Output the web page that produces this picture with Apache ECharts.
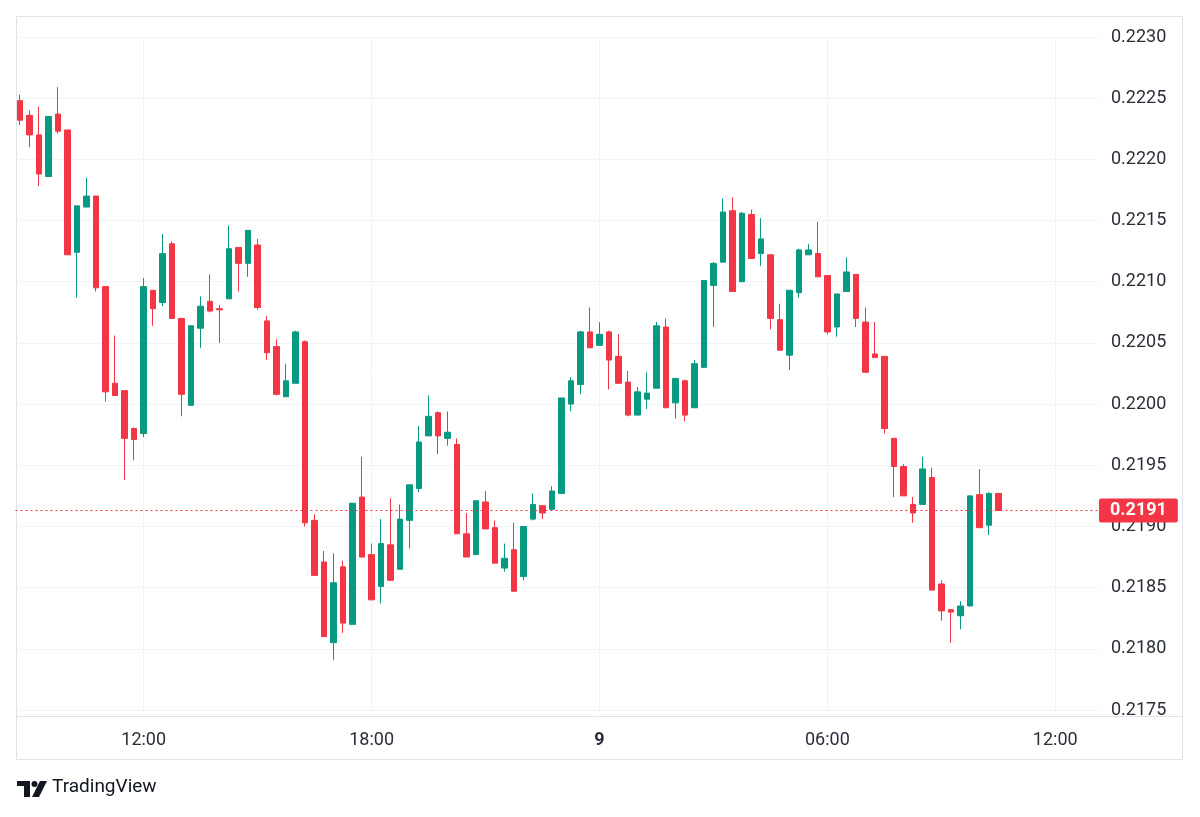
<!DOCTYPE html>
<html>
<head>
<meta charset="utf-8">
<title>Candles</title>
<script src="https://cdn.jsdelivr.net/npm/echarts@6/dist/echarts.min.js"></script>
<style>
  html, body { margin: 0; padding: 0; background: #fff; }
  #chart { width: 1200px; height: 817px; }
</style>
</head>
<body>
<div id="chart"></div>
<script>
// 15 minute candles, first one at 08:45
var startHour = 8, startMinute = 45, slotCount = 114;

var opens = [
    0.22248, 0.22236, 0.22220, 0.22186, 0.22237, 0.22224, 0.22124, 0.22161, 0.22170, 0.22096,
    0.22017, 0.22011, 0.21980, 0.21976, 0.22093, 0.22083, 0.22131, 0.22070, 0.21999, 0.22062,
    0.22084, 0.22078, 0.22086, 0.22128, 0.22115, 0.22130, 0.22068, 0.22047, 0.22006, 0.22017,
    0.22051, 0.21905, 0.21871, 0.21805, 0.21867, 0.21820, 0.21924, 0.21877, 0.21851, 0.21885,
    0.21865, 0.21905, 0.21931, 0.21974, 0.21993, 0.21972, 0.21967, 0.21894, 0.21877, 0.21920,
    0.21899, 0.21866, 0.21881, 0.21859, 0.21906, 0.21917, 0.21914, 0.21927, 0.22000, 0.22016,
    0.22059, 0.22048, 0.22059, 0.22039, 0.22018, 0.21991, 0.22004, 0.22013, 0.22063, 0.22001,
    0.22019, 0.21997, 0.22030, 0.22097, 0.22116, 0.22158, 0.22100, 0.22155, 0.22123, 0.22122,
    0.22069, 0.22040, 0.22091, 0.22122, 0.22123, 0.22105, 0.22063, 0.22092, 0.22106, 0.22067,
    0.22041, 0.22039, 0.21972, 0.21949, 0.21918, 0.21918, 0.21940, 0.21853, 0.21832, 0.21827,
    0.21835, 0.21926, 0.21901, 0.21927
];
var highs = [
    0.22253, 0.22240, 0.22243, 0.22235, 0.22259, 0.22224, 0.22162, 0.22185, 0.22170, 0.22096,
    0.22056, 0.22011, 0.21981, 0.22103, 0.22093, 0.22139, 0.22133, 0.22070, 0.22064, 0.22088,
    0.22106, 0.22081, 0.22146, 0.22128, 0.22142, 0.22135, 0.22072, 0.22053, 0.22033, 0.22060,
    0.22052, 0.21910, 0.21880, 0.21878, 0.21872, 0.21919, 0.21957, 0.21886, 0.21906, 0.21923,
    0.21918, 0.21934, 0.21982, 0.22007, 0.21994, 0.21994, 0.21972, 0.21911, 0.21921, 0.21929,
    0.21905, 0.21886, 0.21903, 0.21900, 0.21927, 0.21917, 0.21933, 0.22005, 0.22022, 0.22060,
    0.22079, 0.22067, 0.22060, 0.22057, 0.22027, 0.22014, 0.22026, 0.22067, 0.22070, 0.22021,
    0.22020, 0.22036, 0.22101, 0.22116, 0.22168, 0.22169, 0.22157, 0.22159, 0.22152, 0.22122,
    0.22082, 0.22093, 0.22127, 0.22131, 0.22149, 0.22105, 0.22090, 0.22120, 0.22106, 0.22079,
    0.22067, 0.22039, 0.21972, 0.21951, 0.21924, 0.21957, 0.21948, 0.21856, 0.21832, 0.21839,
    0.21925, 0.21947, 0.21928, 0.21927
];
var lows = [
    0.22228, 0.22210, 0.22178, 0.22186, 0.22221, 0.22122, 0.22087, 0.22161, 0.22092, 0.22002,
    0.22007, 0.21938, 0.21954, 0.21973, 0.22064, 0.22080, 0.22070, 0.21990, 0.21999, 0.22046,
    0.22075, 0.22050, 0.22086, 0.22092, 0.22104, 0.22077, 0.22036, 0.22007, 0.22006, 0.22017,
    0.21900, 0.21860, 0.21810, 0.21791, 0.21813, 0.21820, 0.21875, 0.21840, 0.21837, 0.21856,
    0.21865, 0.21882, 0.21928, 0.21974, 0.21959, 0.21966, 0.21894, 0.21875, 0.21877, 0.21898,
    0.21870, 0.21863, 0.21847, 0.21856, 0.21905, 0.21906, 0.21913, 0.21927, 0.21994, 0.22008,
    0.22046, 0.22048, 0.22012, 0.22017, 0.21990, 0.21991, 0.21996, 0.22013, 0.21997, 0.21988,
    0.21986, 0.21997, 0.22030, 0.22063, 0.22116, 0.22092, 0.22100, 0.22119, 0.22113, 0.22061,
    0.22044, 0.22028, 0.22087, 0.22122, 0.22104, 0.22057, 0.22055, 0.22092, 0.22063, 0.22026,
    0.22038, 0.21976, 0.21924, 0.21925, 0.21903, 0.21918, 0.21848, 0.21823, 0.21805, 0.21816,
    0.21835, 0.21899, 0.21893, 0.21913
];
var closes = [
    0.22232, 0.22220, 0.22188, 0.22235, 0.22223, 0.22122, 0.22162, 0.22170, 0.22095, 0.22010,
    0.22007, 0.21972, 0.21971, 0.22096, 0.22078, 0.22123, 0.22070, 0.22008, 0.22064, 0.22080,
    0.22076, 0.22077, 0.22127, 0.22115, 0.22142, 0.22079, 0.22042, 0.22008, 0.22019, 0.22059,
    0.21903, 0.21860, 0.21810, 0.21854, 0.21821, 0.21919, 0.21875, 0.21840, 0.21886, 0.21856,
    0.21906, 0.21934, 0.21969, 0.21990, 0.21974, 0.21977, 0.21894, 0.21875, 0.21921, 0.21898,
    0.21870, 0.21874, 0.21847, 0.21900, 0.21918, 0.21911, 0.21929, 0.22005, 0.22019, 0.22059,
    0.22046, 0.22057, 0.22036, 0.22017, 0.21991, 0.22010, 0.22009, 0.22064, 0.21997, 0.22021,
    0.21991, 0.22033, 0.22101, 0.22115, 0.22157, 0.22092, 0.22156, 0.22119, 0.22135, 0.22070,
    0.22044, 0.22093, 0.22126, 0.22126, 0.22104, 0.22059, 0.22090, 0.22108, 0.22070, 0.22026,
    0.22038, 0.21980, 0.21949, 0.21925, 0.21911, 0.21947, 0.21848, 0.21831, 0.21830, 0.21835,
    0.21925, 0.21899, 0.21927, 0.21913
];

// time labels shown on the x axis ('00:00' is the new day)
var tickLabels = { '12:00': '12:00', '18:00': '18:00', '00:00': '9', '06:00': '06:00' };
var priceTicks = { min: 0.2175, max: 0.2230, step: 0.0005 };

var upColor = '#089981', downColor = '#F23645', textColor = '#2a2e39', gridColor = '#f0f3fa';

function pad(n) { return (n < 10 ? '0' : '') + n; }
var categories = [];
for (var i = 0; i < slotCount; i++) {
    var m = startHour * 60 + startMinute + i * 15;
    categories.push(pad(Math.floor(m / 60) % 24) + ':' + pad(m % 60));
}
// half-slot axis: odd positions sit on candle centres, used only for the vertical grid lines
var halfSlots = [''];
categories.forEach(function (c) { halfSlots.push(c, ''); });

var candles = opens.map(function (o, i) {
    return [o, closes[i], lows[i], highs[i]];
});
var lastClose = closes[closes.length - 1];

function isTick(index, value) { return tickLabels.hasOwnProperty(value); }

var chart = echarts.init(document.getElementById('chart'));
var option = {
    animation: false
    , backgroundColor: '#ffffff'
    , textStyle: { fontFamily: 'Roboto, sans-serif' }
    , grid: { left: 15.5, right: 102, top: 37, bottom: 107 }
    , graphic: [
        {
            type: 'rect', silent: true, z: -1
            , shape: { x: 16.5, y: 16.5, width: 1166, height: 743 }
            , style: { fill: 'none', stroke: '#e0e3eb', lineWidth: 1 }
        }
        , {
            type: 'line', silent: true
            , shape: { x1: 16.5, y1: 716.5, x2: 1182.5, y2: 716.5 }
            , style: { stroke: '#e0e3eb', lineWidth: 1 }
        }
        , {
            type: 'group', left: 17, top: 781
            , children: [
                { type: 'rect', shape: { x: 0, y: 0, width: 13, height: 5 }, style: { fill: '#131722' } }
                , { type: 'rect', shape: { x: 7, y: 0, width: 6, height: 16 }, style: { fill: '#131722' } }
                , { type: 'circle', shape: { cx: 17.5, cy: 3, r: 3 }, style: { fill: '#131722' } }
                , { type: 'polygon', shape: { points: [[23, 0], [30, 0], [22, 16], [15, 16]] }, style: { fill: '#131722' } }
            ]
        }
        , {
            type: 'text', left: 52, top: 778
            , style: { text: 'TradingView', fill: '#131722', font: '19px Roboto, sans-serif' }
        }
    ]
    , xAxis: [
        {
            type: 'category'
            , data: categories
            , boundaryGap: true
            , axisLine: { show: false }
            , axisTick: { show: false, interval: isTick }
            , axisLabel: {
                interval: isTick
                , margin: 21
                , fontSize: 18
                , color: textColor
                , formatter: function (v) {
                    return v === '00:00' ? '{day|' + tickLabels[v] + '}' : tickLabels[v];
                }
                , rich: { day: { fontWeight: 'bold', fontSize: 18, color: textColor } }
            }
            , splitLine: { show: false }
        }
        , {
            type: 'category'
            , data: halfSlots
            , boundaryGap: false
            , axisLine: { show: false }
            , axisTick: { show: false }
            , axisLabel: { show: false }
            , splitLine: { show: true, interval: isTick, lineStyle: { color: gridColor, width: 1 } }
        }
    ]
    , yAxis: {
        type: 'value'
        , position: 'right'
        , min: priceTicks.min
        , max: priceTicks.max
        , interval: priceTicks.step
        , axisLine: { show: false }
        , axisTick: { show: false }
        , axisLabel: {
            margin: 13
            , fontSize: 18
            , color: textColor
            , formatter: function (v) { return v.toFixed(4); }
        }
        , splitLine: { lineStyle: { color: gridColor, width: 1 } }
    }
    , series: [
        {
            type: 'candlestick'
            , data: candles
            , barWidth: 6
            , itemStyle: {
                color: upColor
                , color0: downColor
                , borderColor: upColor
                , borderColor0: downColor
                , borderWidth: 1
            }
            , markLine: {
                silent: true
                , symbol: 'none'
                , precision: 5
                , data: [{ yAxis: lastClose }]
                , lineStyle: { color: downColor, type: [2, 3], width: 1.2, opacity: 1 }
                , label: {
                    position: 'end'
                    , distance: 1
                    , formatter: function (p) { return p.value.toFixed(4); }
                    , backgroundColor: downColor
                    , color: '#ffffff'
                    , fontSize: 18
                    , fontWeight: 'bold'
                    , padding: [3, 11, 3, 11]
                    , borderRadius: 2
                }
            }
        }
    ]
};
chart.setOption(option);
</script>
</body>
</html>
